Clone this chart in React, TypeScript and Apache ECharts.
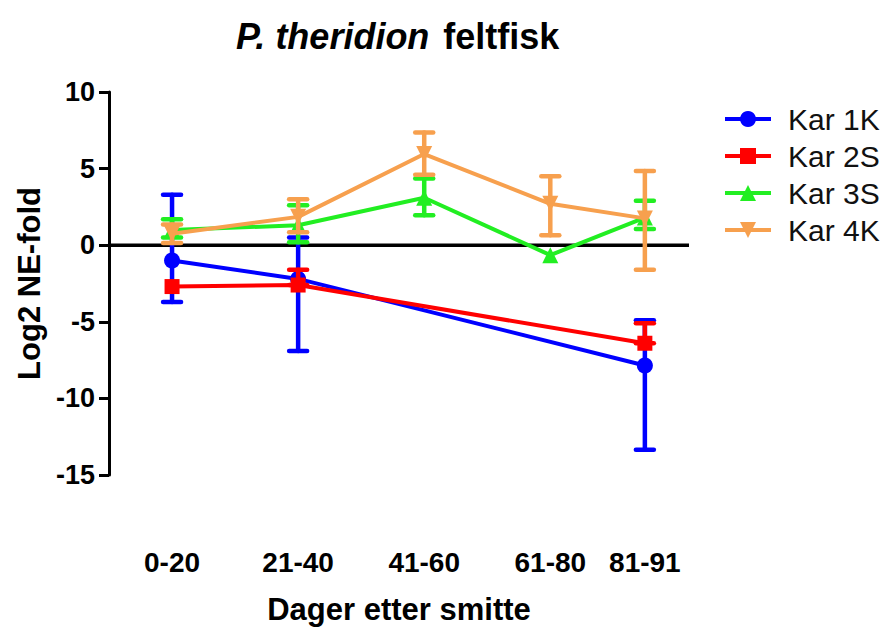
import React, { useEffect, useRef } from "react";
import * as echarts from "echarts";

const categories = ["0-20", "21-40", "41-60", "61-80", "81-91"];
const dayMid = [10, 30, 50, 70, 85];

const seriesNames = ["Kar 1K", "Kar 2S", "Kar 3S", "Kar 4K"];

const kar1KMean = [-1.0, -2.2, null, null, -7.85];
const kar1KUpper = [3.3, 0.5, null, null, -4.9];
const kar1KLower = [-3.7, -6.9, null, null, -13.35];

const kar2SMean = [-2.7, -2.6, null, null, -6.4];
const kar2SUpper = [null, -1.6, null, null, -5.1];
const kar2SLower = [null, -2.6, null, null, -6.4];

const kar3SMean = [1.0, 1.3, 3.1, -0.65, 1.8];
const kar3SUpper = [1.7, 2.6, 4.35, null, 2.9];
const kar3SLower = [0.5, 0.2, 1.95, null, 1.05];

const kar4KMean = [0.75, 1.85, 5.95, 2.7, 1.75];
const kar4KUpper = [1.35, 3.0, 7.35, 4.5, 4.85];
const kar4KLower = [0.15, 0.85, 4.6, 0.65, -1.6];

const yTicks = [-15, -10, -5, 0, 5, 10];

const FONT = "'Liberation Sans', Arial, sans-serif";

const colors = ["#0000ff", "#ff0000", "#22ee22", "#f7a04e"];
const symbols = [
  "circle",
  "rect",
  "triangle",
  "path://M0,0 L10,0 L5,9 Z",
];
const symbolSizes = [16, 15, 16, 16];

function buildLine(mean: (number | null)[]) {
  const out: number[][] = [];
  mean.forEach((m, i) => {
    if (m !== null) out.push([dayMid[i], m]);
  });
  return out;
}

function buildErr(lower: (number | null)[], upper: (number | null)[]) {
  const out: number[][] = [];
  lower.forEach((l, i) => {
    const u = upper[i];
    if (l !== null && u !== null) out.push([dayMid[i], l, u]);
  });
  return out;
}

const groups = [
  { mean: kar1KMean, lower: kar1KLower, upper: kar1KUpper },
  { mean: kar2SMean, lower: kar2SLower, upper: kar2SUpper },
  { mean: kar3SMean, lower: kar3SLower, upper: kar3SUpper },
  { mean: kar4KMean, lower: kar4KLower, upper: kar4KUpper },
];

export default function App() {
  const ref = useRef<HTMLDivElement>(null);
  useEffect(() => {
    if (!ref.current) return;
    const chart = echarts.init(ref.current, null, { renderer: "svg" });

    const series: any[] = [
      {
        type: "line",
        name: "zero",
        data: [
          [0, 0],
          [92, 0],
        ],
        symbol: "none",
        lineStyle: { color: "#000", width: 3.5 },
        silent: true,
        z: 1,
      },
    ];

    groups.forEach((g, k) => {
      const color = colors[k];
      series.push({
        type: "custom",
        name: seriesNames[k] + " SD",
        data: buildErr(g.lower, g.upper),
        encode: { x: 0, y: [1, 2] },
        z: 2 + k * 2,
        renderItem: (params: any, api: any) => {
          const x = api.value(0);
          const lo = api.coord([x, api.value(1)]);
          const hi = api.coord([x, api.value(2)]);
          const hw = 9;
          const style = { stroke: color, lineWidth: 4.5, lineCap: "round" };
          return {
            type: "group",
            children: [
              { type: "line", shape: { x1: lo[0], y1: lo[1], x2: hi[0], y2: hi[1] }, style },
              { type: "line", shape: { x1: hi[0] - hw, y1: hi[1], x2: hi[0] + hw, y2: hi[1] }, style },
              { type: "line", shape: { x1: lo[0] - hw, y1: lo[1], x2: lo[0] + hw, y2: lo[1] }, style },
            ],
          };
        },
      });
      series.push({
        type: "line",
        name: seriesNames[k],
        data: buildLine(g.mean),
        symbol: symbols[k],
        symbolSize: symbolSizes[k],
        itemStyle: { color },
        lineStyle: { color, width: 4 },
        z: 3 + k * 2,
      });
    });

    chart.setOption({
      animation: false,
      backgroundColor: "#fff",
      title: {
        text: "{i|P. theridion}{b|feltfisk}",
        left: 231,
        top: 13,
        textStyle: {
          rich: {
            i: { fontFamily: FONT, fontSize: 36, fontWeight: "bold", fontStyle: "italic", color: "#000" },
            b: { fontFamily: FONT, fontSize: 36, fontWeight: "bold", color: "#000", padding: [0, 0, 0, 14] },
          },
        },
      },
      legend: {
        orient: "vertical",
        left: 718,
        top: 99,
        itemWidth: 46,
        itemHeight: 20,
        itemGap: 7,
        data: seriesNames,
        lineStyle: { width: 4 },
        textStyle: { fontFamily: FONT, fontSize: 30, color: "#111", padding: [0, 0, 0, 12] },
      },
      grid: { left: 109, top: 92, width: 580, height: 383 },
      xAxis: {
        type: "value",
        min: 0,
        max: 92,
        axisLine: { show: false },
        axisTick: { show: false },
        splitLine: { show: false },
        axisLabel: {
          customValues: dayMid,
          formatter: (v: number) => {
            const i = dayMid.indexOf(v);
            return i >= 0 ? categories[i] : "";
          },
          fontFamily: FONT,
          fontSize: 28,
          fontWeight: "bold",
          color: "#000",
          margin: 73,
        },
        name: "Dager etter smitte",
        nameLocation: "middle",
        nameGap: 119,
        nameTextStyle: { fontFamily: FONT, fontSize: 31, fontWeight: "bold", color: "#000" },
      },
      yAxis: {
        type: "value",
        min: -15,
        max: 10,
        interval: 5,
        axisLine: { show: true, lineStyle: { color: "#000", width: 3 } },
        axisTick: { show: true, length: 10, lineStyle: { color: "#000", width: 3 } },
        splitLine: { show: false },
        axisLabel: {
          fontFamily: FONT,
          fontSize: 27,
          fontWeight: "bold",
          color: "#000",
          margin: 14,
          customValues: yTicks,
        },
        name: "Log2 NE-fold",
        nameLocation: "middle",
        nameGap: 64,
        nameTextStyle: { fontFamily: FONT, fontSize: 31, fontWeight: "bold", color: "#000" },
      },
      series,
    });
    return () => chart.dispose();
  }, []);
  return (
    <div
      ref={ref}
      style={{ position: "fixed", left: 0, top: 0, width: 889, height: 632 }}
    />
  );
}
